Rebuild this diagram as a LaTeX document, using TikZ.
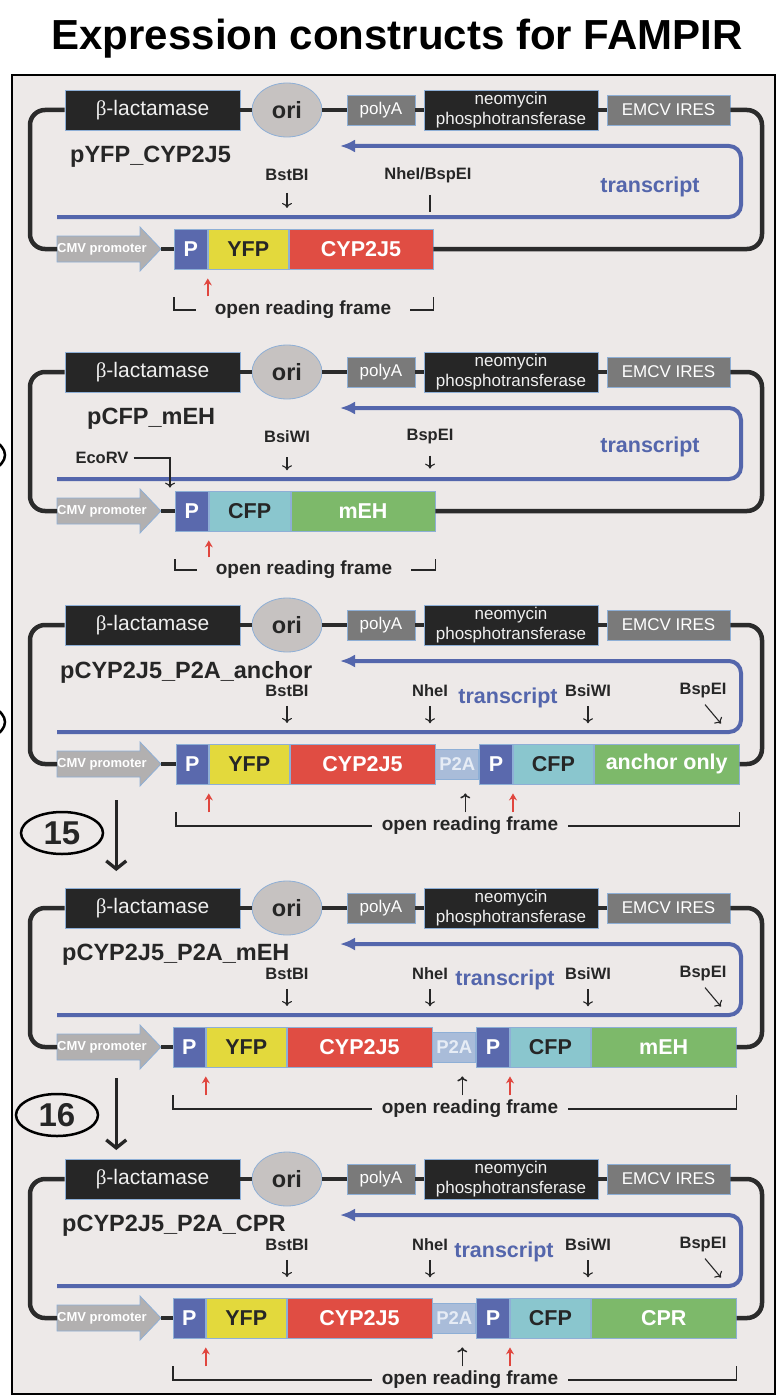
\documentclass[tikz,border=0pt]{standalone}
\usepackage{fontspec}
\setmainfont{Liberation Sans}
\newfontfamily\greekfont{Liberation Serif}
\usetikzlibrary{arrows.meta, calc, positioning, shapes.geometric}

\definecolor{bggray}{HTML}{EDE9E8}
\definecolor{bbgray}{HTML}{2B2B2B}
\definecolor{boxdark}{HTML}{262626}
\definecolor{edgeblue}{HTML}{8EAFD6}
\definecolor{boxgrey}{HTML}{7A7A7A}
\definecolor{origrey}{HTML}{C6C2C1}
\definecolor{cmvgrey}{HTML}{B2B0B0}
\definecolor{trblue}{HTML}{5466AC}
\definecolor{pblue}{HTML}{5A69AD}
\definecolor{yfpyellow}{HTML}{E3D93C}
\definecolor{cypred}{HTML}{E04D43}
\definecolor{cfpteal}{HTML}{8AC6CE}
\definecolor{greenbox}{HTML}{7DB96A}
\definecolor{p2ablue}{HTML}{A9BCD9}
\definecolor{p2atext}{HTML}{E6ECF5}
\definecolor{txtdark}{HTML}{262626}
\definecolor{startred}{HTML}{E0463E}

\tikzset{
	headline/.style={text=black, font=\fontsize{42}{46}\selectfont\bfseries},
	panelframe/.style={draw=black, line width=2.5pt, fill=bggray},
	backbone/.style={draw=bbgray, line width=4.5pt, rounded corners=15pt},
	darkbox/.style={
		rectangle, draw=edgeblue, line width=0.8pt,
		fill=boxdark, text=white!94!black,
		inner sep=0pt, minimum height=40pt,
		font=\fontsize{21}{23}\selectfont
	},
	greybox/.style={
		rectangle, draw=edgeblue, line width=0.8pt,
		fill=boxgrey, text=white,
		inner sep=0pt, minimum height=30pt,
		font=\fontsize{17}{19}\selectfont
	},
	orinode/.style={ellipse, draw=edgeblue, line width=0.8pt, fill=origrey, minimum width=70pt, minimum height=54pt, inner sep=0pt, text=txtdark, font=\fontsize{23.5}{25}\selectfont\bfseries},
	cmvshape/.style={draw=edgeblue, line width=0.8pt, fill=cmvgrey},
	cmvtext/.style={inner sep=0pt, text=white, font=\fontsize{13}{14}\selectfont\bfseries},
	gene/.style={rectangle, draw=edgeblue, line width=0.8pt, minimum height=40pt, inner sep=0pt, text=white, font=\fontsize{21.5}{23}\selectfont\bfseries},
	plname/.style={anchor=west, inner sep=0pt, text=txtdark, font=\fontsize{23.5}{25}\selectfont\bfseries},
	transcript/.style={draw=trblue, line width=4pt, rounded corners=12pt, -{Latex[length=15pt,width=13pt]}},
	trlabel/.style={inner sep=0pt, text=trblue, font=\fontsize{21.5}{23}\selectfont\bfseries},
	cutsite/.style={inner sep=0pt, text=txtdark, font=\fontsize{16.5}{18}\selectfont\bfseries},
	cutarrow/.style={draw=txtdark, line width=1.1pt, -{To[length=5pt,width=10pt]}},
	startcodon/.style={draw=startred, line width=1.5pt, -{Stealth[length=7pt,width=8pt]}},
	orf/.style={inner xsep=10pt, inner ysep=0pt, text=txtdark, font=\fontsize{19}{21}\selectfont\bfseries},
	bracket/.style={draw=txtdark, line width=1.5pt},
	stepno/.style={ellipse, draw=black, line width=2.5pt, minimum width=82pt, minimum height=42pt, inner sep=0pt, text=txtdark, font=\fontsize{33}{35}\selectfont\bfseries},
	steparrow/.style={draw=txtdark, line width=3.3pt, -{Straight Barb[length=8pt,width=20pt]}}
}

\begin{document}
\begin{tikzpicture}[x=1pt,y=-1pt]
	\useasboundingbox (0,0) rectangle (779,1399);

	\node[headline, anchor=base] (head) at (397,50) {Expression constructs for FAMPIR};
	\draw[panelframe] (12,75) rectangle (775,1394);

	% rings of earlier steps, cut off at the left edge
	\node[stepno] (ringA) at (-36,455) {};
	\node[stepno] (ringB) at (-36,722) {};

	% vector backbone, the same in every construct
	\foreach \i/\T/\name/\nx/\tx/\ty in {1/110/pYFP\_CYP2J5/70/650/77, 2/372/pCFP\_mEH/87/650/75, 3/625/pCYP2J5\_P2A\_anchor/60/508/73, 4/908/pCYP2J5\_P2A\_mEH/62/505/72, 5/1179/pCYP2J5\_P2A\_CPR/62/504/73}{
		\node[darkbox, minimum width=175pt]	(bla\i)		at (152.5,\T)	{{\greekfont β}-lactamase};
		\node[orinode]						(ori\i)		at (287,\T)		{ori};
		\node[greybox, minimum width=68pt]	(pA\i)		at (381,\T)		{polyA};
		\node[darkbox, minimum width=174pt, align=center, font=\fontsize{17}{20}\selectfont] (neo\i) at (511,\T) {neomycin\\phosphotransferase};
		\node[greybox, minimum width=123pt]	(ires\i)	at (668.5,\T)	{EMCV IRES};
		\draw[backbone] (bla\i.east) -- (ori\i.west) (ori\i.east) -- (pA\i.west) (pA\i.east) -- (neo\i.west) (neo\i.east) -- (ires\i.west);

		\coordinate (tl\i) at (30,\T);
		\coordinate (bl\i) at (30,\T+139);
		\coordinate (tr\i) at (762,\T);
		\coordinate (br\i) at (762,\T+139);
		\coordinate (cmvtail\i) at (57,\T+139);
		\coordinate (cmvtip\i) at (161,\T+139);
		\filldraw[cmvshape] (57,\T+126) -- (140,\T+126) -- (140,\T+117) -- (cmvtip\i) -- (140,\T+161) -- (140,\T+152) -- (57,\T+152) -- cycle;
		\node[cmvtext] (cmv\i) at (102,\T+139) {CMV promoter};
		\draw[backbone] (bla\i.west) -- (tl\i) -- (bl\i) -- (cmvtail\i);

		\node[plname] (name\i) at (\nx,\T+47) {\name};

		\coordinate (ta\i) at (57,\T+107);
		\coordinate (tb\i) at (741,\T+107);
		\coordinate (tc\i) at (741,\T+36);
		\coordinate (td\i) at (340,\T+36);
		\draw[transcript] (ta\i) -- (tb\i) -- (tc\i) -- (td\i);
		\node[trlabel] (tr\i lab) at (\tx,\T+\ty) {transcript};
	}

	% pYFP_CYP2J5
	\node[gene, fill=pblue, minimum width=33pt, anchor=west]			(pa1)	at (174,249) {P};
	\node[gene, fill=yfpyellow, text=txtdark, minimum width=80pt, right=0pt of pa1]	(yfp1) {YFP};
	\node[gene, fill=cypred, minimum width=144pt, right=0pt of yfp1]	(end1) {CYP2J5};
	\node[cutsite] (bst1) at (287,175) {BstBI};
	\draw[cutarrow] ([yshift=-12pt]bst1.south) -- ++(0,15);
	\node[cutsite] (nhe1) at (428,175) {NheI/BspEI};
	\draw[bracket, line width=1.1pt] ([xshift=2pt,yshift=-12pt]nhe1.south) -- ++(0,17);
	\draw[startcodon] ([yshift=-27pt]pa1.south east) -- ([yshift=-9pt]pa1.south east);
	\node[orf, inner xsep=19pt] (orf1) at (303,310) {open reading frame};
	\draw[bracket] (orf1.west) -| ([yshift=-28pt]pa1.south west);
	\draw[bracket] (orf1.east) -| ([yshift=-28pt]end1.south east);

	% pCFP_mEH
	\node[gene, fill=pblue, minimum width=33pt, anchor=west]			(pa2)	at (175,511) {P};
	\node[gene, fill=cfpteal, text=txtdark, minimum width=81pt, right=0pt of pa2]	(cfp2) {CFP};
	\node[gene, fill=greenbox, minimum width=144pt, right=0pt of cfp2]	(end2) {mEH};
	\node[cutsite] (bsi2) at (287,437) {BsiWI};
	\draw[cutarrow] ([yshift=-14pt]bsi2.south) -- ++(0,13);
	\node[cutsite] (bsp2) at (430,437) {BspEI};
	\draw[cutarrow] ([yshift=-11pt]bsp2.south) -- ++(0,13);
	\node[cutsite] (eco2) at (102,458) {EcoRV};
	\draw[cutarrow] ([xshift=5pt]eco2.east) -| ([xshift=-5pt,yshift=3pt]pa2.north west);
	\draw[startcodon] ([yshift=-26pt]pa2.south east) -- ([yshift=-9pt]pa2.south east);
	\node[orf, inner xsep=19pt] (orf2) at (304,570) {open reading frame};
	\draw[bracket] (orf2.west) -| ([yshift=-28pt]pa2.south west);
	\draw[bracket] (orf2.east) -| ([yshift=-28pt]end2.south east);

	% P2A fusions
	\foreach \i/\T/\last/\bx in {3/625/anchor only/176, 4/908/mEH/173, 5/1179/CPR/173}{
		\node[gene, fill=pblue, minimum width=32pt, anchor=west]			(pa\i)	at (\bx,\T+139) {P};
		\node[gene, fill=yfpyellow, text=txtdark, minimum width=80pt, right=0pt of pa\i]	(yfp\i) {YFP};
		\node[gene, fill=cypred, minimum width=145pt, right=0pt of yfp\i]	(cyp\i) {CYP2J5};
		\node[gene, fill=p2ablue, text=p2atext, minimum width=43pt, minimum height=30pt, font=\fontsize{18.5}{20}\selectfont\bfseries, right=0pt of cyp\i] (p2a\i) {P2A};
		\node[gene, fill=pblue, minimum width=33pt, right=0pt of p2a\i]	(pb\i)	{P};
		\node[gene, fill=cfpteal, text=txtdark, minimum width=80pt, right=0pt of pb\i]	(cfp\i) {CFP};
		\node[gene, fill=greenbox, minimum width=145pt, right=0pt of cfp\i]	(end\i) {\last};

		\node[cutsite] (bst\i) at (287,\T+66) {BstBI};
		\node[cutsite] (nhe\i) at (430,\T+66) {NheI};
		\node[cutsite] (bsi\i) at (588,\T+66) {BsiWI};
		\node[cutsite] (bsp\i) at (703,\T+66) {BspEI};
		\foreach \s in {bst,nhe,bsi} { \draw[cutarrow] ([yshift=-9pt]\s\i.south) -- ++(0,17); }
		\draw[cutarrow] ([xshift=2pt,yshift=-6pt]bsp\i.south) -- ++(16,19);

		\draw[startcodon] ([yshift=-28pt]pa\i.south east) -- ([yshift=-9pt]pa\i.south east);
		\draw[startcodon] ([yshift=-28pt]pb\i.south east) -- ([yshift=-9pt]pb\i.south east);
		\draw[cutarrow, line width=1.5pt] ([xshift=8pt,yshift=-33pt]p2a\i.south) -- ([xshift=8pt,yshift=-14pt]p2a\i.south);

		\node[orf] (orf\i) at (470,\T+201) {open reading frame};
		\draw[bracket] (orf\i.west) -| ([yshift=-28pt]pa\i.south west);
		\draw[bracket] (orf\i.east) -| ([yshift=-28pt]end\i.south east);
	}

	% close the loops
	\foreach \i in {1,...,5} {
		\draw[backbone] (ires\i.east) -- (tr\i) -- (br\i) -- (end\i.east);
		\draw[backbone] (cmvtip\i) -- (pa\i.west);
	}

	% cloning steps
	\node[stepno] (n15) at (62,833) {15};
	\draw[steparrow] ([xshift=12pt,yshift=33pt]n15.east) -- ([xshift=12pt,yshift=-38pt]n15.east);
	\node[stepno] (n16) at (57,1115) {16};
	\draw[steparrow] ([xshift=17pt,yshift=37pt]n16.east) -- ([xshift=17pt,yshift=-35pt]n16.east);
\end{tikzpicture}
\end{document}
